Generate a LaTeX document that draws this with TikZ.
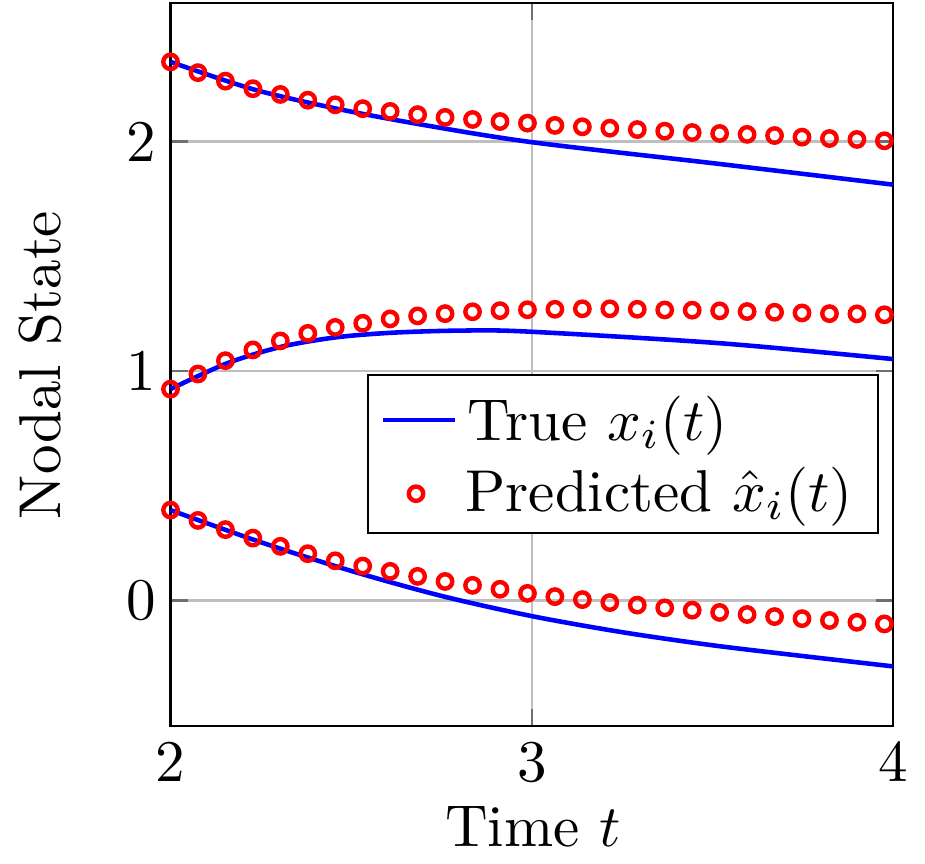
\documentclass[tikz,border=0pt]{standalone}
\definecolor{gridgray}{RGB}{191,191,191}
\definecolor{tickgray}{RGB}{110,110,110}
\begin{document}
\begin{tikzpicture}[
  txt/.style={scale=1.68, inner sep=0pt, outer sep=0pt},
  mk/.style={circle, draw=red, line width=1.25pt, minimum size=0.144cm, inner sep=0pt},
  truecurve/.style={blue, line width=1.3pt},
  gridline/.style={gridgray, line width=0.65pt},
  tickline/.style={tickgray, line width=0.6pt},
  frame/.style={black, line width=0.65pt},
]
\useasboundingbox (0,0) rectangle (9.25,8.63);
\begin{scope}[x={(3.6125cm,0cm)}, y={(0cm,2.295cm)}, shift={(-5.52cm,2.625cm)}]
  \coordinate (bl) at (2,-0.547);
  \coordinate (tr) at (4,2.603);
  % grid
  \draw[gridline] (3,-0.547) -- (3,2.603);
  \foreach \v in {0,1,2} \draw[gridline] (2,\v) -- (4,\v);
  % ticks
  \foreach \v in {0,1,2} {
    \draw[tickline] (2,\v) -- ++(0.17cm,0);
    \draw[tickline] (4,\v) -- ++(-0.17cm,0);
  }
  \draw[tickline] (3,-0.547) -- ++(0,0.17cm);
  \draw[tickline] (3,2.603) -- ++(0,-0.17cm);
  % frame
  \draw[frame] (bl) rectangle (tr);
  % true curves
  \draw[truecurve] plot[smooth] coordinates {(2,2.347) (2.23,2.227) (2.46,2.143) (2.69,2.075) (3.0,1.997) (3.52,1.902) (4,1.812)};
  \draw[truecurve] plot[smooth] coordinates {(2,0.921) (2.1556,1.033) (2.3078,1.106) (2.4601,1.147) (2.6159,1.167) (2.8014,1.176) (2.986,1.172) (3.521,1.121) (4,1.052)};
  \draw[truecurve] plot[smooth] coordinates {(2,0.394) (2.25,0.254) (2.5,0.129) (2.75,0.020) (3,-0.068) (3.25,-0.138) (3.5,-0.195) (3.75,-0.242) (4,-0.287)};
  % predicted markers
  \foreach \v [count=\k from 0] in {2.347,2.300,2.263,2.230,2.205,2.180,2.160,2.143,2.131,2.117,2.105,2.096,2.087,2.080,2.070,2.064,2.058,2.052,2.045,2.039,2.035,2.031,2.026,2.019,2.013,2.009,2.003}
    \node[mk] (pa\k) at ({2+0.076*\k},\v) {};
  \foreach \v [count=\k from 0] in {0.921,0.987,1.045,1.092,1.131,1.164,1.190,1.208,1.227,1.240,1.250,1.258,1.263,1.267,1.269,1.271,1.271,1.269,1.266,1.265,1.262,1.259,1.256,1.253,1.250,1.249,1.245}
    \node[mk] (pb\k) at ({2+0.076*\k},\v) {};
  \foreach \v [count=\k from 0] in {0.394,0.349,0.309,0.272,0.236,0.204,0.173,0.150,0.127,0.105,0.083,0.066,0.049,0.031,0.017,0.004,-0.009,-0.020,-0.032,-0.042,-0.052,-0.061,-0.070,-0.079,-0.087,-0.095,-0.102}
    \node[mk] (pc\k) at ({2+0.076*\k},\v) {};
\end{scope}
% tick labels
\node[txt, anchor=base] (xt2) at (1.705,0.82) {2};
\node[txt, anchor=base] (xt3) at (5.3175,0.82) {3};
\node[txt, anchor=base] (xt4) at (8.93,0.82) {4};
\node[txt, anchor=east] (yt0) at (1.56,2.625) {0};
\node[txt, anchor=east] (yt1) at (1.56,4.92) {1};
\node[txt, anchor=east] (yt2) at (1.56,7.215) {2};
% axis labels
\node[txt, anchor=base] (xlab) at (5.33,0.163) {Time $t$};
\node[txt, anchor=base, rotate=90] (ylab) at (0.60,4.98) {Nodal State};
% legend
\coordinate (lg1) at (3.677,3.30);
\coordinate (lg2) at (8.78,4.88);
\draw[frame, fill=white] (lg1) rectangle (lg2);
\coordinate (ls1) at (3.83,4.43);
\coordinate (ls2) at (4.55,4.43);
\draw[truecurve] (ls1) -- (ls2);
\node[mk] (legmk) at (4.16,3.693) {};
\node[txt, anchor=base west] (legt1) at (4.675,4.23) {True $x_i(t)$};
\node[txt, anchor=base west] (legt2) at (4.655,3.52) {Predicted $\hat{x}_i(t)$};
\end{tikzpicture}
\end{document}
